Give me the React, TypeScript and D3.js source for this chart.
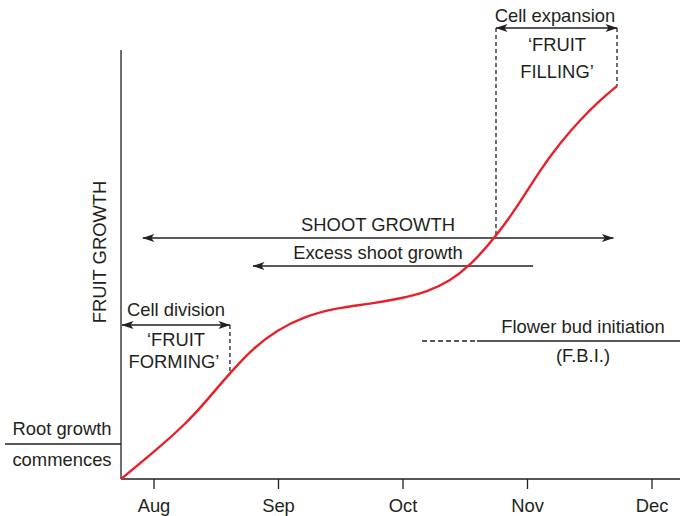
import React from "react";
import * as d3 from "d3";

const W = 680, H = 516;
const months = ["Aug", "Sep", "Oct", "Nov", "Dec"];
// x in months after 1 Aug, y = relative fruit growth (0-100)
const growthX = [-0.265, -0.008, 0.265, 0.426, 0.61, 0.795, 0.988, 1.197, 1.47, 1.735, 2.0, 2.193, 2.378, 2.538, 2.747, 2.94, 3.1, 3.261, 3.422, 3.582, 3.719];
const growthY = [0, 6.1, 13.1, 18.4, 24.7, 30.5, 34.7, 37.8, 39.9, 40.8, 42.2, 43.6, 46.2, 49.7, 56.5, 64.4, 72.0, 78.3, 83.7, 88.3, 91.6];

const x = d3.scaleLinear().domain([0, 4]).range([154, 652]);
const y = d3.scaleLinear().domain([0, 100]).range([479, 50]);

const font = "'Liberation Sans', Arial, Helvetica, sans-serif";
const ink = "#231f20";

export default function App() {
  const pts = growthX.map((v, i) => [x(v), y(growthY[i])] as [number, number]);
  const line = d3.line().curve(d3.curveBasis)(pts) || "";
  const x0 = x(-0.265);
  const yBase = y(0);
  const T = (props: any) => (
    <text fontFamily={font} fontSize={18.4} fill={ink} textAnchor="middle" {...props} />
  );
  const xDiv = x(0.61), xExpL = x(2.747), xExpR = x(3.719);
  const yDiv = 325, yShoot = 238, yExcess = 266, yRoot = 444, yFbi = 341, yExp = 28;
  return (
    <svg width={W} height={H} style={{ position: "absolute", left: 0, top: 0 }}>
      <defs>
        <marker id="ah" viewBox="0 0 12 8" refX="11.5" refY="4" markerWidth="13" markerHeight="8" markerUnits="userSpaceOnUse" orient="auto-start-reverse">
          <path d="M0,0 L12,4 L0,8 L3,4 Z" fill={ink} />
        </marker>
      </defs>
      {/* axes */}
      <line x1={x0} x2={x0} y1={y(100)} y2={yBase} stroke={ink} strokeWidth={1.3} />
      <line x1={x0} x2={W} y1={yBase} y2={yBase} stroke={ink} strokeWidth={1.3} />
      {months.map((m, i) => (
        <g key={m}>
          <line x1={x(i)} x2={x(i)} y1={yBase} y2={yBase + 10} stroke={ink} strokeWidth={1.3} />
          <T x={x(i)} y={512}>{m}</T>
        </g>
      ))}
      <T x={0} y={0} transform={`translate(106,252) rotate(-90)`}>FRUIT GROWTH</T>

      {/* root growth */}
      <line x1={5} x2={x0} y1={yRoot} y2={yRoot} stroke={ink} strokeWidth={1.3} />
      <T x={62} y={435}>Root growth</T>
      <T x={62} y={466}>commences</T>

      {/* cell division */}
      <line x1={x0 + 1} x2={xDiv} y1={yDiv} y2={yDiv} stroke={ink} strokeWidth={1.3} markerStart="url(#ah)" markerEnd="url(#ah)" />
      <line x1={xDiv} x2={xDiv} y1={yDiv} y2={y(24.7)} stroke={ink} strokeWidth={1.3} strokeDasharray="4,3" />
      <T x={176} y={316}>Cell division</T>
      <T x={176} y={346}>‘FRUIT</T>
      <T x={174} y={368}>FORMING’</T>

      {/* shoot growth */}
      <line x1={x(-0.09)} x2={x(3.69)} y1={yShoot} y2={yShoot} stroke={ink} strokeWidth={1.3} markerStart="url(#ah)" markerEnd="url(#ah)" />
      <T x={378} y={231}>SHOOT GROWTH</T>
      <line x1={x(0.795)} x2={x(3.045)} y1={yExcess} y2={yExcess} stroke={ink} strokeWidth={1.3} markerStart="url(#ah)" />
      <T x={378} y={259}>Excess shoot growth</T>

      {/* cell expansion */}
      <line x1={xExpL} x2={xExpR} y1={yExp} y2={yExp} stroke={ink} strokeWidth={1.3} markerStart="url(#ah)" markerEnd="url(#ah)" />
      <line x1={xExpL} x2={xExpL} y1={yExp} y2={yShoot} stroke={ink} strokeWidth={1.3} strokeDasharray="4,3" />
      <line x1={xExpR} x2={xExpR} y1={yExp} y2={y(91.6)} stroke={ink} strokeWidth={1.3} strokeDasharray="4,3" />
      <T x={555} y={22}>Cell expansion</T>
      <T x={557} y={51}>‘FRUIT</T>
      <T x={557} y={78}>FILLING’</T>

      {/* flower bud initiation */}
      <line x1={x(2.153)} x2={x(2.595)} y1={yFbi} y2={yFbi} stroke={ink} strokeWidth={1.3} strokeDasharray="5,3" />
      <line x1={x(2.595)} x2={W} y1={yFbi} y2={yFbi} stroke={ink} strokeWidth={1.3} />
      <T x={583} y={333}>Flower bud initiation</T>
      <T x={583} y={362}>(F.B.I.)</T>

      {/* growth curve */}
      <path d={line} fill="none" stroke="#e8202a" strokeWidth={2.4} />
    </svg>
  );
}
